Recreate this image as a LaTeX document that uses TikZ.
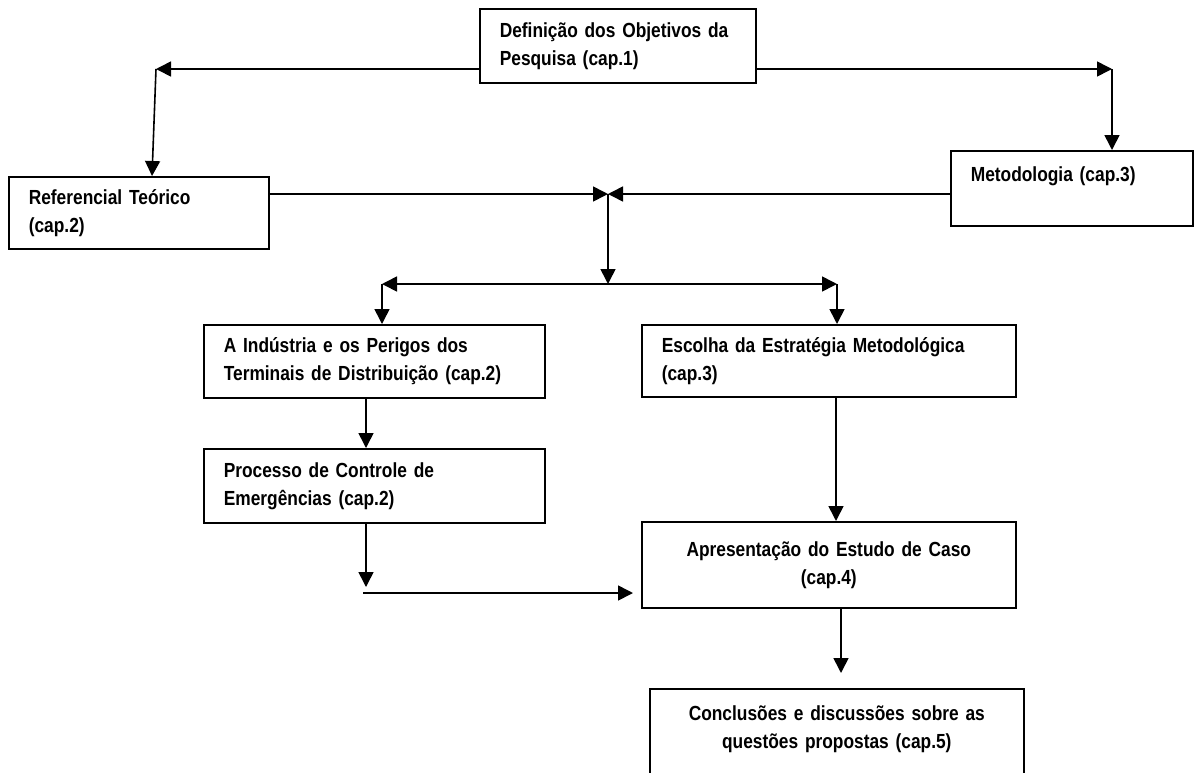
\documentclass[tikz,border=0pt]{standalone}
\usepackage{fontspec}
\setmainfont{Liberation Sans}[FakeStretch=0.85]
\usetikzlibrary{arrows.meta, calc}

\begin{document}
\begin{tikzpicture}[x = 1pt, y = -1pt,
		caixa/.style = {draw, line width = 1.6pt, anchor = north west, inner xsep = 20pt, inner ysep = 0pt, align = left, font = \bfseries\fontsize{20.4}{28}\selectfont},
		seta/.style = {line width = 1.6pt, -{Triangle[length = 15pt, width = 15pt]}},
		setas/.style = {line width = 1.6pt, {Triangle[length = 15pt, width = 15pt]}-{Triangle[length = 15pt, width = 15pt]}}]
			\useasboundingbox (0,0) rectangle (1195,772);

			\node[caixa, text width = 236pt, minimum height = 74pt] (objetivos) at (479,8) {Definição dos Objetivos da\\Pesquisa (cap.1)};
			\node[caixa, text width = 220pt, minimum height = 72pt] (referencial) at (8,176) {Referencial Teórico\\(cap.2)};
			\node[caixa, text width = 202pt, minimum height = 75pt] (metodologia) at (950,150) {Metodologia (cap.3)\\\mbox{}};
			\node[caixa, text width = 301pt, minimum height = 73pt] (industria) at (203,324) {A Indústria e os Perigos dos\\Terminais de Distribuição (cap.2)};
			\node[caixa, text width = 334pt, minimum height = 72pt] (escolha) at (641,324) {Escolha da Estratégia Metodológica\\(cap.3)};
			\node[caixa, text width = 301pt, minimum height = 74pt] (processo) at (203,448) {Processo de Controle de\\Emergências (cap.2)};
			\node[caixa, align = center, text width = 334pt, minimum height = 86pt] (apresentacao) at (641,521) {Apresentação do Estudo de Caso\\(cap.4)};
			\node[caixa, align = center, text width = 334pt, minimum height = 104pt] (conclusoes) at (649,688) {Conclusões e discussões sobre as\\questões propostas (cap.5)\\\mbox{}};

			\coordinate (cEsq) at (156,69);
			\coordinate (cDir) at (1112,69);
			\coordinate (cRef) at (152,0);
			\coordinate (cMeio) at (608,194);
			\coordinate (cDivide) at (608,284);
			\coordinate (cInd) at (382,284);
			\coordinate (cEsc) at (837,284);
			\coordinate (cColEsq) at (366,0);
			\coordinate (cColDir) at (836,0);
			\coordinate (cProc) at (366,587);
			\coordinate (cLinha) at (363,593);
			\coordinate (cConc) at (841,673);

			\begin{scope}[seta]
				\draw (objetivos.west |- cEsq) -- (cEsq);
				\draw (cEsq) -- (referencial.north -| cRef);
				\draw (objetivos.east |- cDir) -- (cDir);
				\draw (cDir) -- (cDir |- metodologia.north);
				\draw (referencial.east |- cMeio) -- (cMeio);
				\draw (metodologia.west |- cMeio) -- (cMeio);
				\draw (cMeio) -- (cDivide);
				\draw (cInd) -- (cInd |- industria.north);
				\draw (cEsc) -- (cEsc |- escolha.north);
				\draw (industria.south -| cColEsq) -- (processo.north -| cColEsq);
				\draw (processo.south -| cColEsq) -- (cProc);
				\draw[shorten > = 8pt] (cLinha) -- (apresentacao.west |- cLinha);
				\draw (escolha.south -| cColDir) -- (apresentacao.north -| cColDir);
				\draw (apresentacao.south -| cConc) -- (cConc);
			\end{scope}

			\draw[setas] (cInd) -- (cEsc);
		\end{tikzpicture}
\end{document}
